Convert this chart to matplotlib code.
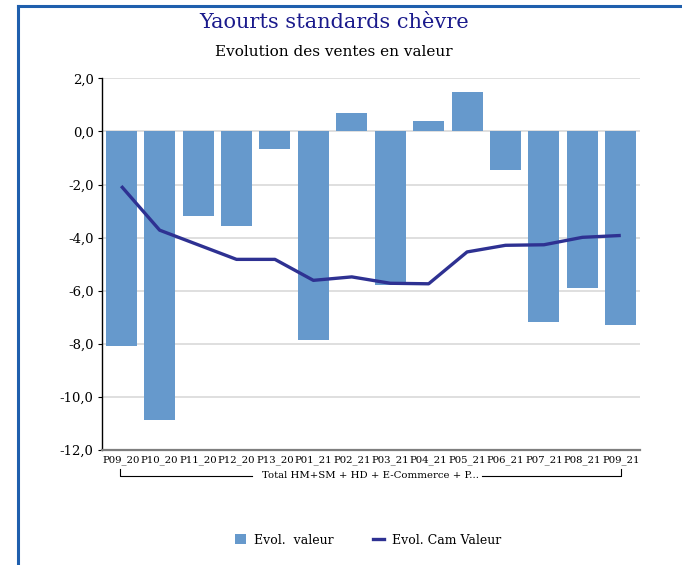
import matplotlib
matplotlib.use("Agg")
import matplotlib.pyplot as plt
from matplotlib.lines import Line2D
from matplotlib.patches import Patch

categories = ["P09_20", "P10_20", "P11_20", "P12_20", "P13_20", "P01_21", "P02_21",
              "P03_21", "P04_21", "P05_21", "P06_21", "P07_21", "P08_21", "P09_21"]
evol_valeur = [-8.08, -10.86, -3.20, -3.58, -0.65, -7.86, 0.70,
               -5.79, 0.39, 1.47, -1.44, -7.18, -5.91, -7.29]
evol_cam_valeur = [-2.06, -3.72, -4.27, -4.82, -4.82, -5.61, -5.48,
                   -5.72, -5.74, -4.54, -4.29, -4.27, -3.99, -3.92]
yticks = [2, 0, -2, -4, -6, -8, -10, -12]
group_label = "Total HM+SM + HD + E-Commerce + P..."

W, H = 682, 565
fig = plt.figure(figsize=(W / 100, H / 100), dpi=100)
font = "DejaVu Serif"

# frame border (blue)
fig.add_artist(Line2D([17.5 / W, 1.0], [1 - 5.5 / H, 1 - 5.5 / H], color="#1F5FAD", lw=2.2))
fig.add_artist(Line2D([17.5 / W, 17.5 / W], [0, 1 - 5.5 / H], color="#1F5FAD", lw=2.2))

left, right, top, bottom = 102, 640, 78.3, 450
ax = fig.add_axes([left / W, 1 - bottom / H, (right - left) / W, (bottom - top) / H])

x = list(range(len(categories)))
ax.bar(x, evol_valeur, width=0.81, color="#6699CC", zorder=2)
ax.plot(x, evol_cam_valeur, color="#2E3192", lw=2.4, zorder=3, solid_capstyle="butt")

ax.set_xlim(-0.5, len(categories) - 0.5)
ax.set_ylim(-12, 2)
ax.set_yticks(yticks)
ax.set_yticklabels([f"{v:.1f}".replace(".", ",") for v in yticks],
                   fontfamily=font, fontsize=9.5)
ax.grid(axis="y", color="#D9D9D9", lw=1.2, zorder=0)
ax.set_axisbelow(True)
for s in ["top", "right"]:
    ax.spines[s].set_visible(False)
ax.spines["left"].set_color("black")
ax.spines["left"].set_linewidth(1.0)
ax.spines["bottom"].set_color("#7F7F7F")
ax.spines["bottom"].set_linewidth(1.6)
ax.tick_params(axis="y", length=3, pad=3)
ax.set_xticks(x)
ax.set_xticklabels(categories, fontfamily=font, fontsize=7.3)
ax.tick_params(axis="x", length=0, pad=4)

# group bracket
yb = 1 - 476 / H
yt = 1 - 469 / H
x0, x1 = 120 / W, 621 / W
fig.text((x0 + x1) / 2, yb, group_label, ha="center", va="center",
         fontfamily=font, fontsize=7.3)
fig.add_artist(Line2D([x0, x0, 252 / W], [yt, yb, yb], color="black", lw=0.8))
fig.add_artist(Line2D([482 / W, x1, x1], [yb, yb, yt], color="black", lw=0.8))

# titles
fig.text(334 / W, 1 - 22 / H, "Yaourts standards chèvre", ha="center", va="center",
         fontfamily=font, fontsize=15, color="#1A1A8C")
fig.text(334 / W, 1 - 52 / H, "Evolution des ventes en valeur", ha="center", va="center",
         fontfamily=font, fontsize=11, color="black")

handles = [Patch(facecolor="#6699CC", edgecolor="none"),
           Line2D([0], [0], color="#2E3192", lw=2.4)]
fig.legend(handles, ["Evol.  valeur", "Evol. Cam Valeur"], loc="center",
           bbox_to_anchor=(368 / W, 1 - 540 / H), ncol=2, frameon=False,
           prop={"family": font, "size": 9}, handlelength=0.9, handleheight=0.9,
           columnspacing=3.2, handletextpad=0.6)

fig.savefig("out.png", dpi=100)
